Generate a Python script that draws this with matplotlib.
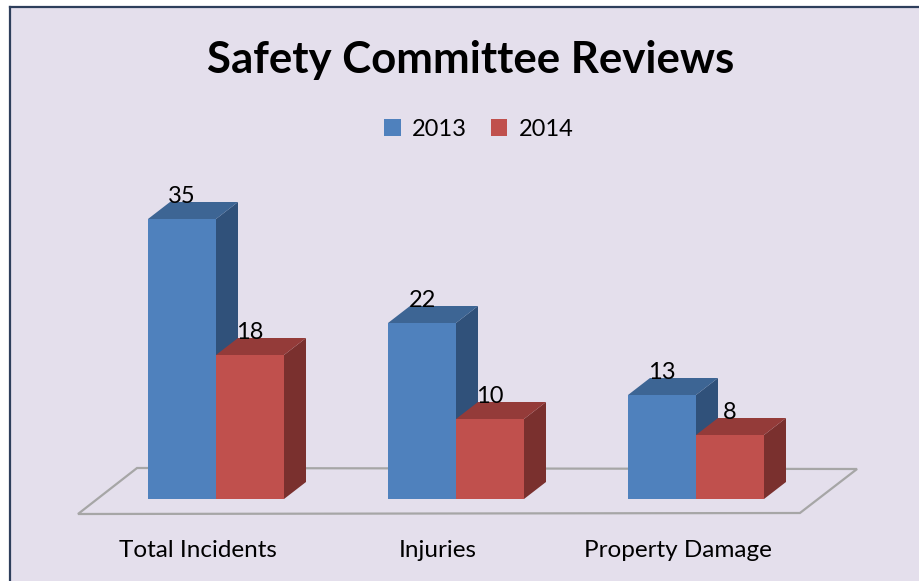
import matplotlib
matplotlib.use("Agg")
import matplotlib.pyplot as plt
from matplotlib.patches import Polygon, Patch, Rectangle

# data
categories = ["Total Incidents", "Injuries", "Property Damage"]
years = ["2013", "2014"]
values_2013 = [35, 22, 13]
values_2014 = [18, 10, 8]

BG = "#E4DFEC"
FONT = "Lato"

# face colours: front, top, side
blue = ("#4F81BD", "#3D6594", "#30517A")
red = ("#C0504D", "#943B39", "#7A302E")

W, H = 919, 581
fig = plt.figure(figsize=(W / 100, H / 100), dpi=100)
fig.patch.set_facecolor("white")

# chart area with a dark left/top border
fig.add_artist(Rectangle((10 / W, 0), 1, 1 - 7 / H, transform=fig.transFigure,
                         facecolor=BG, edgecolor="none", zorder=0))
fig.add_artist(plt.Line2D([10 / W, 10 / W], [0, 1 - 7 / H], transform=fig.transFigure,
                          color="#2E3F5C", lw=1.6, zorder=5))
fig.add_artist(plt.Line2D([10 / W, 1], [1 - 7 / H, 1 - 7 / H], transform=fig.transFigure,
                          color="#2E3F5C", lw=1.6, zorder=5))

ax = fig.add_axes([0, 0, 1, 1])
ax.set_facecolor("none")
# group index on x (240 px per group), value on y (8 px per unit)
ax.set_xlim(-216 / 240, (W - 216) / 240)
ax.set_ylim(-(H - 499) / 8, 499 / 8)
ax.axis("off")

bw = 68 / 240          # bar width
ddx = 22 / 240         # depth offset x
ddy = 17 / 8           # depth offset y

# floor
floor = Polygon([(-0.575, -1.875), (2.433, -1.75), (2.671, 3.75), (-0.329, 3.875)],
                closed=True, facecolor="none", edgecolor="#A6A6A6", lw=1.6, zorder=1)
ax.add_patch(floor)


def bar3d(x0, v, cols, z):
    front, top, side = cols
    ax.add_patch(Polygon([(x0 + bw, 0), (x0 + bw + ddx, ddy), (x0 + bw + ddx, v + ddy), (x0 + bw, v)],
                         facecolor=side, edgecolor="none", zorder=z))
    ax.add_patch(Polygon([(x0, v), (x0 + ddx, v + ddy), (x0 + bw + ddx, v + ddy), (x0 + bw, v)],
                         facecolor=top, edgecolor="none", zorder=z))
    ax.add_patch(Rectangle((x0, 0), bw, v, facecolor=front, edgecolor="none", zorder=z))
    ax.text(x0 + bw / 2, v + ddy - 0.1, str(v), ha="center", va="baseline",
            fontsize=17, family=FONT, color="black", zorder=10)


for i in range(len(categories)):
    bar3d(i - bw, values_2013[i], blue, 3)
    bar3d(i, values_2014[i], red, 4)
    ax.text(i - 0.075, -6.4, categories[i], ha="center", va="center",
            fontsize=17.5, family=FONT, color="black")

fig.text(471 / W, 1 - 60 / H, "Safety Committee Reviews", ha="center", va="center",
         fontsize=31.5, fontweight="bold", family=FONT, color="black")

handles = [Patch(facecolor=blue[0], label=years[0]), Patch(facecolor=red[0], label=years[1])]
fig.legend(handles=handles, loc="center", bbox_to_anchor=(479 / W, 1 - 129 / H), ncol=2,
           frameon=False, prop={"family": FONT, "size": 17}, handlelength=0.7,
           handleheight=0.7, handletextpad=0.5, columnspacing=1.0)

fig.savefig("out.png", dpi=100, facecolor=fig.get_facecolor())
